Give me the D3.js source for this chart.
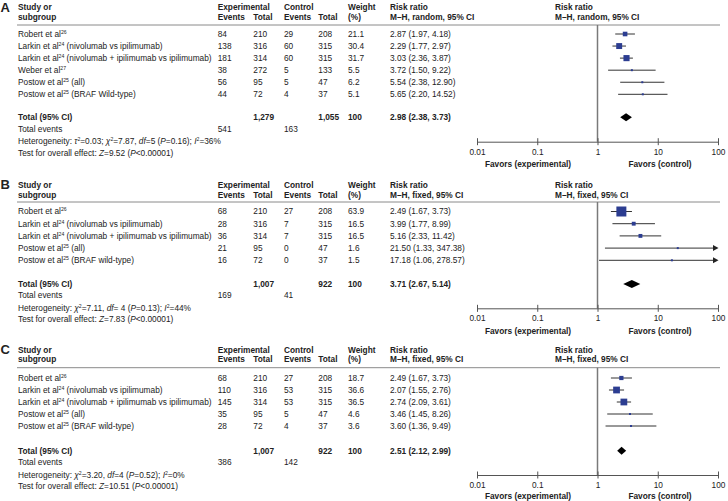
<!DOCTYPE html>
<html><head><meta charset="utf-8">
<script src="https://cdn.jsdelivr.net/npm/d3@7"></script>
<style>
body{margin:0;background:#fff}
svg{display:block}
text{font-family:"Liberation Sans",Arial,Helvetica,sans-serif;fill:#222}
</style>
</head><body>
<svg id="chart" width="728" height="501"></svg>
<script>
// ---------------- DATA ----------------
const panelLetters = ["A", "B", "C"];
const models = ["random", "fixed", "fixed"];
const tickValues = [0.01, 0.1, 1, 10, 100];
const favorLabels = ["Favors (experimental)", "Favors (control)"];

// Panel A
const studyA = ["Robert et al", "Larkin et al", "Larkin et al", "Weber et al", "Postow et al", "Postow et al"];
const refA = ["26", "24", "24", "27", "25", "25"];
const noteA = ["", " (nivolumab vs ipilimumab)", " (nivolumab + ipilimumab vs ipilimumab)", "", " (all)", " (BRAF Wild-type)"];
const expEventsA = [84, 138, 181, 38, 56, 44];
const expTotalA = [210, 316, 314, 272, 95, 72];
const ctrlEventsA = [29, 60, 60, 5, 5, 4];
const ctrlTotalA = [208, 315, 315, 133, 47, 37];
const weightA = [21.1, 30.4, 31.7, 5.5, 6.2, 5.1];
const rrA = [2.87, 2.29, 3.03, 3.72, 5.54, 5.65];
const lowA = [1.97, 1.77, 2.36, 1.50, 2.38, 2.20];
const highA = [4.18, 2.97, 3.87, 9.22, 12.90, 14.52];
const totalsA = [1279, 1055];
const totalEventsA = [541, 163];
const pooledA = [2.98, 2.38, 3.73];
const hetA = ["0.03", "7.87", "5", "0.16", "36"];   // tau2, chi2, df, P, I2
const zA = ["9.52", "0.00001"];

// Panel B
const studyB = ["Robert et al", "Larkin et al", "Larkin et al", "Postow et al", "Postow et al"];
const refB = ["26", "24", "24", "25", "25"];
const noteB = ["", " (nivolumab vs ipilimumab)", " (nivolumab + ipilimumab vs ipilimumab)", " (all)", " (BRAF wild-type)"];
const expEventsB = [68, 28, 36, 21, 16];
const expTotalB = [210, 316, 314, 95, 72];
const ctrlEventsB = [27, 7, 7, 0, 0];
const ctrlTotalB = [208, 315, 315, 47, 37];
const weightB = [63.9, 16.5, 16.5, 1.6, 1.5];
const rrB = [2.49, 3.99, 5.16, 21.50, 17.18];
const lowB = [1.67, 1.77, 2.33, 1.33, 1.06];
const highB = [3.73, 8.99, 11.42, 347.38, 278.57];
const totalsB = [1007, 922];
const totalEventsB = [169, 41];
const pooledB = [3.71, 2.67, 5.14];
const hetB = [null, "7.11", " 4", "0.13", "44"];
const zB = ["7.83", "0.00001"];

// Panel C
const studyC = ["Robert et al", "Larkin et al", "Larkin et al", "Postow et al", "Postow et al"];
const refC = ["26", "24", "24", "25", "25"];
const noteC = ["", " (nivolumab vs ipilimumab)", " (nivolumab + ipilimumab vs ipilimumab)", " (all)", " (BRAF wild-type)"];
const expEventsC = [68, 110, 145, 35, 28];
const expTotalC = [210, 316, 314, 95, 72];
const ctrlEventsC = [27, 53, 53, 5, 4];
const ctrlTotalC = [208, 315, 315, 47, 37];
const weightC = [18.7, 36.6, 36.5, 4.6, 3.6];
const rrC = [2.49, 2.07, 2.74, 3.46, 3.60];
const lowC = [1.67, 1.55, 2.09, 1.45, 1.36];
const highC = [3.73, 2.76, 3.61, 8.26, 9.49];
const totalsC = [1007, 922];
const totalEventsC = [386, 142];
const pooledC = [2.51, 2.12, 2.99];
const hetC = [null, "3.20", "4", "0.52", "0"];
const zC = ["10.51", "0.00001"];

// ---------------- BUILD ----------------
const panels = [
  {study: studyA, ref: refA, note: noteA, ee: expEventsA, et: expTotalA, ce: ctrlEventsA, ct: ctrlTotalA,
   w: weightA, rr: rrA, lo: lowA, hi: highA, totals: totalsA, tev: totalEventsA, pooled: pooledA, het: hetA, z: zA},
  {study: studyB, ref: refB, note: noteB, ee: expEventsB, et: expTotalB, ce: ctrlEventsB, ct: ctrlTotalB,
   w: weightB, rr: rrB, lo: lowB, hi: highB, totals: totalsB, tev: totalEventsB, pooled: pooledB, het: hetB, z: zB},
  {study: studyC, ref: refC, note: noteC, ee: expEventsC, et: expTotalC, ce: ctrlEventsC, ct: ctrlTotalC,
   w: weightC, rr: rrC, lo: lowC, hi: highC, totals: totalsC, tev: totalEventsC, pooled: pooledC, het: hetC, z: zC}
];

// layout (y positions are text centres)
const layouts = [
  {letter: 7,   h1: 6.7, h2: 16.7,  rule: 25,    row0: 34,    step: 12.06, total: 117.3, tev: 128.6, het: 141.2, test: 152.8, axis: 141.7, fav: 164},
  {letter: 184, h1: 185, h2: 194.6, rule: 202,   row0: 211.5, step: 12.2,  total: 284,   tev: 295.3, het: 307.9, test: 319.5, axis: 308.3, fav: 330.6},
  {letter: 349, h1: 350, h2: 359.5, rule: 367.7, row0: 378,   step: 12,    total: 450.7, tev: 462,   het: 474.6, test: 486.2, axis: 475,   fav: 496.5}
];

const FS = 8.3;
const col = {study: 18, ee: 217.7, et: 253.3, ce: 284, ct: 318.3, w: 348, rr: 390, rr2: 555};
const svg = d3.select("#chart");
const x = d3.scaleLog().domain([0.01, 100]).range([477, 718]);
const size = d3.scalePow().exponent(0.7).domain([0, 64]).range([0, 10]);
const blue = "#2c3d91";
const f2 = d => d.toFixed(2);
const fc = d3.format(",");

function txt(g, xx, y, s, opt = {}) {
  return g.append("text").attr("x", xx).attr("y", y).attr("dy", "0.35em")
    .attr("font-size", opt.size || FS).attr("font-weight", opt.bold ? "bold" : "normal")
    .attr("text-anchor", opt.anchor || "start").text(s);
}
// rich text: segments [text, flags] flags: i=italic, s=superscript
function rich(g, xx, y, segs) {
  const t = g.append("text").attr("x", xx).attr("y", y).attr("dy", "0.35em").attr("font-size", FS);
  let raised = false;
  segs.forEach(([s, f = ""]) => {
    const sp = t.append("tspan").text(s);
    if (f.includes("i")) sp.attr("font-style", "italic");
    if (f.includes("s")) {
      sp.attr("font-size", FS * 0.62);
      if (!raised) { sp.attr("dy", -3); raised = true; }
    } else if (raised) { sp.attr("dy", 3); raised = false; }
  });
  return t;
}

panels.forEach((P, pi) => {
  const L = layouts[pi];
  const g = svg.append("g");
  txt(g, 0.5, L.letter, panelLetters[pi], {bold: true, size: 13});

  // headers
  txt(g, col.study, L.h1, "Study or", {bold: true});
  txt(g, col.study, L.h2, "subgroup", {bold: true});
  txt(g, col.ee, L.h1, "Experimental", {bold: true});
  txt(g, col.ee, L.h2, "Events", {bold: true});
  txt(g, col.et, L.h2, "Total", {bold: true});
  txt(g, col.ce, L.h1, "Control", {bold: true});
  txt(g, col.ce, L.h2, "Events", {bold: true});
  txt(g, col.ct, L.h2, "Total", {bold: true});
  txt(g, col.w, L.h1, "Weight", {bold: true});
  txt(g, col.w, L.h2, "(%)", {bold: true});
  const mh = "M\u2013H, " + models[pi] + ", 95% CI";
  txt(g, col.rr, L.h1, "Risk ratio", {bold: true});
  txt(g, col.rr, L.h2, mh, {bold: true});
  txt(g, col.rr2, L.h1, "Risk ratio", {bold: true});
  txt(g, col.rr2, L.h2, mh, {bold: true});

  g.append("line").attr("x1", 17).attr("x2", 720).attr("y1", L.rule).attr("y2", L.rule)
    .attr("stroke", "#8a8a8a").attr("stroke-width", 1);

  // vertical line of no effect
  g.append("line").attr("x1", x(1)).attr("x2", x(1)).attr("y1", L.rule).attr("y2", L.axis)
    .attr("stroke", "#7a7a7a").attr("stroke-width", 1.5);

  P.study.forEach((s, i) => {
    const y = L.row0 + i * L.step;
    rich(g, col.study, y, [[s], [P.ref[i], "s"], [P.note[i]]]);
    txt(g, col.ee, y, String(P.ee[i]));
    txt(g, col.et, y, String(P.et[i]));
    txt(g, col.ce, y, String(P.ce[i]));
    txt(g, col.ct, y, String(P.ct[i]));
    txt(g, col.w, y, P.w[i].toFixed(1));
    txt(g, col.rr, y, `${f2(P.rr[i])} (${f2(P.lo[i])}, ${f2(P.hi[i])})`);

    const xh = x(Math.min(P.hi[i], 100));
    g.append("line").attr("x1", x(P.lo[i])).attr("x2", P.hi[i] > 100 ? xh - 3 : xh)
      .attr("y1", y).attr("y2", y).attr("stroke", "#333").attr("stroke-width", 1);
    if (P.hi[i] > 100) {
      g.append("path").attr("d", `M${xh - 5},${y - 3}L${xh + 0.5},${y}L${xh - 5},${y + 3}Z`).attr("fill", "#222");
    }
    const sz = Math.max(2, size(P.w[i]));
    g.append("rect").attr("x", x(P.rr[i]) - sz / 2).attr("y", y - sz / 2)
      .attr("width", sz).attr("height", sz).attr("fill", blue);
  });

  // totals
  txt(g, col.study, L.total, "Total (95% CI)", {bold: true});
  txt(g, col.et, L.total, fc(P.totals[0]), {bold: true});
  txt(g, col.ct, L.total, fc(P.totals[1]), {bold: true});
  txt(g, col.w, L.total, "100", {bold: true});
  txt(g, col.rr, L.total, `${f2(P.pooled[0])} (${f2(P.pooled[1])}, ${f2(P.pooled[2])})`, {bold: true});
  txt(g, col.study, L.tev, "Total events");
  txt(g, col.ee, L.tev, String(P.tev[0]));
  txt(g, col.ce, L.tev, String(P.tev[1]));

  const h = P.het;
  const segs = [["Heterogeneity:  "]];
  if (h[0] !== null) segs.push(["\u03C4", "i"], ["2", "s"], ["=" + h[0] + "; "]);
  segs.push(["\u03C7", "i"], ["2", "s"], ["=" + h[1] + ", "], ["df", "i"], ["=" + h[2] + " ("], ["P", "i"],
    ["=" + h[3] + "); "], ["I", "i"], ["2", "s"], ["=" + h[4] + "%"]);
  rich(g, col.study, L.het, segs);
  rich(g, col.study, L.test, [["Test for overall effect: "], ["Z", "i"], ["=" + P.z[0] + " ("], ["P", "i"], ["<" + P.z[1] + ")"]]);

  // diamond
  const yc = L.total, dh = 4;
  g.append("path").attr("d",
    `M${x(P.pooled[1])},${yc}L${x(P.pooled[0])},${yc - dh}L${x(P.pooled[2])},${yc}L${x(P.pooled[0])},${yc + dh}Z`)
    .attr("fill", "#000");

  // axis
  const ax = g.append("g").attr("transform", `translate(0,${L.axis})`)
    .call(d3.axisBottom(x).tickValues(tickValues).tickFormat(d => String(d)).tickSizeOuter(0).tickSize(3).tickPadding(4));
  ax.select(".domain").attr("stroke", "#555");
  ax.selectAll(".tick line").attr("y1", -3.5).attr("y2", 3.5).attr("stroke", "#555");
  ax.selectAll(".tick text").attr("font-size", FS).attr("font-family", null).attr("fill", "#222");

  txt(g, 528, L.fav, favorLabels[0], {bold: true, anchor: "middle"});
  txt(g, 660, L.fav, favorLabels[1], {bold: true, anchor: "middle"});
});
</script>
</body></html>
